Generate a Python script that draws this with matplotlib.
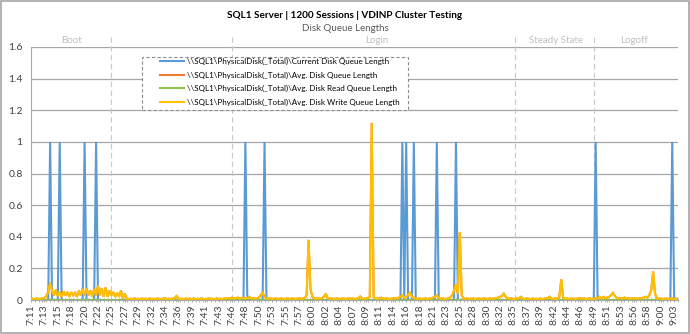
import matplotlib
matplotlib.use('Agg')
import matplotlib.pyplot as plt
from matplotlib.patches import Rectangle

plt.rcParams['font.family'] = ['Lato', 'DejaVu Sans']

# ---------------- data ----------------
title = "SQL1 Server | 1200 Sessions | VDINP Cluster Testing"
subtitle = "Disk Queue Lengths"
series_names = [
    r"\\SQL1\PhysicalDisk(_Total)\Current Disk Queue Length",
    r"\\SQL1\PhysicalDisk(_Total)\Avg. Disk Queue Length",
    r"\\SQL1\PhysicalDisk(_Total)\Avg. Disk Read Queue Length",
    r"\\SQL1\PhysicalDisk(_Total)\Avg. Disk Write Queue Length",
]
time_labels = ["7:11", "7:13", "7:15", "7:18", "7:20", "7:22", "7:25", "7:27", "7:29", "7:32",
               "7:34", "7:36", "7:39", "7:41", "7:43", "7:46", "7:48", "7:50", "7:53", "7:55",
               "7:57", "8:00", "8:02", "8:04", "8:07", "8:09", "8:11", "8:14", "8:16", "8:18",
               "8:21", "8:23", "8:25", "8:28", "8:30", "8:32", "8:35", "8:37", "8:39", "8:42",
               "8:44", "8:46", "8:49", "8:51", "8:53", "8:56", "8:58", "9:00", "9:03"]
phase_names = ["Boot", "Login", "Steady State", "Logoff"]
phase_bounds = [41.8, 104.9, 253.0, 294.1]   # sample index of dashed phase separators

current_queue = [
    0,0,0,0,0,0,0,0,0,0, 1,0,0,0,0,1,0,0,0,0,
    0,0,0,0,0,0,0,0,1,0, 0,0,0,0,1,0,0,0,0,0,
    0,0,0,0,0,0,0,0,0,0, 0,0,0,0,0,0,0,0,0,0,
    0,0,0,0,0,0,0,0,0,0, 0,0,0,0,0,0,0,0,0,0,
    0,0,0,0,0,0,0,0,0,0, 0,0,0,0,0,0,0,0,0,0,
    0,0,0,0,0,0,0,0,0,0, 0,0,1,0,0,0,0,0,0,0,
    0,0,1,0,0,0,0,0,0,0, 0,0,0,0,0,0,0,0,0,0,
    0,0,0,0,0,0,0,0,0,0, 0,0,0,0,0,0,0,0,0,0,
    0,0,0,0,0,0,0,0,0,0, 0,0,0,0,0,0,0,0,0,0,
    0,0,0,0,0,0,0,0,0,0, 0,0,0,0,1,0,1,0,0,0,
    1,0,0,0,0,0,0,0,0,0, 0,0,1,0,0,0,0,0,0,0,
    0,0,1,0,0,0,0,0,0,0, 0,0,0,0,0,0,0,0,0,0,
    0,0,0,0,0,0,0,0,0,0, 0,0,0,0,0,0,0,0,0,0,
    0,0,0,0,0,0,0,0,0,0, 0,0,0,0,0,0,0,0,0,0,
    0,0,0,0,0,0,0,0,0,0, 0,0,0,0,0,1,0,0,0,0,
    0,0,0,0,0,0,0,0,0,0, 0,0,0,0,0,0,0,0,0,0,
    0,0,0,0,0,0,0,0,0,0, 0,0,0,0,0,1,0,0,0,
]

write_queue = [
    0.005,0.008,0.005,0.010,0.006,0.008,0.010,0.012,0.025,0.050, 0.110,0.060,0.030,0.065,0.025,0.050,0.020,0.055,0.030,0.050,
    0.020,0.050,0.030,0.045,0.020,0.060,0.030,0.070,0.030,0.075, 0.030,0.060,0.020,0.070,0.030,0.090,0.030,0.075,0.020,0.080,
    0.020,0.060,0.030,0.050,0.020,0.045,0.020,0.060,0.010,0.040, 0.008,0.005,0.008,0.005,0.010,0.006,0.008,0.005,0.010,0.006,
    0.008,0.005,0.010,0.006,0.008,0.005,0.010,0.007,0.005,0.008, 0.010,0.006,0.008,0.005,0.010,0.012,0.025,0.010,0.006,0.008,
    0.005,0.010,0.006,0.008,0.005,0.010,0.006,0.008,0.005,0.010, 0.007,0.005,0.008,0.010,0.006,0.008,0.005,0.010,0.006,0.008,
    0.005,0.010,0.008,0.012,0.010,0.015,0.010,0.012,0.015,0.010, 0.012,0.015,0.010,0.012,0.020,0.010,0.012,0.008,0.010,0.015,
    0.030,0.045,0.020,0.010,0.008,0.010,0.006,0.008,0.010,0.006, 0.008,0.010,0.006,0.008,0.010,0.007,0.008,0.010,0.006,0.008,
    0.010,0.008,0.010,0.012,0.030,0.380,0.070,0.020,0.010,0.008, 0.010,0.008,0.012,0.020,0.040,0.012,0.008,0.010,0.006,0.008,
    0.010,0.006,0.008,0.010,0.006,0.008,0.010,0.008,0.010,0.006, 0.008,0.010,0.022,0.010,0.008,0.010,0.012,0.020,1.120,0.020,
    0.010,0.008,0.010,0.015,0.010,0.008,0.010,0.006,0.008,0.010, 0.012,0.010,0.015,0.020,0.030,0.015,0.020,0.030,0.050,0.020,
    0.015,0.010,0.008,0.010,0.006,0.008,0.010,0.006,0.008,0.010, 0.015,0.020,0.030,0.015,0.008,0.010,0.006,0.008,0.010,0.015,
    0.030,0.060,0.100,0.040,0.430,0.030,0.010,0.008,0.010,0.006, 0.008,0.010,0.006,0.008,0.010,0.006,0.008,0.010,0.006,0.008,
    0.010,0.008,0.010,0.012,0.015,0.020,0.025,0.040,0.020,0.010, 0.008,0.010,0.006,0.008,0.010,0.012,0.020,0.008,0.006,0.010,
    0.008,0.005,0.010,0.006,0.008,0.005,0.010,0.006,0.008,0.010, 0.012,0.020,0.008,0.006,0.010,0.008,0.020,0.130,0.015,0.008,
    0.010,0.006,0.008,0.010,0.006,0.008,0.010,0.012,0.008,0.010, 0.006,0.008,0.010,0.006,0.008,0.010,0.012,0.020,0.010,0.020,
    0.012,0.015,0.020,0.030,0.045,0.025,0.015,0.010,0.012,0.010, 0.015,0.012,0.010,0.008,0.010,0.012,0.010,0.008,0.010,0.012,
    0.015,0.020,0.015,0.030,0.060,0.180,0.040,0.010,0.008,0.010, 0.006,0.008,0.010,0.006,0.008,0.010,0.006,0.008,0.010,
]
# Avg. disk queue is write-dominated (identical readings, hidden under the write line);
# read queue stays at zero throughout.
avg_queue = list(write_queue)
read_queue = [0.0] * len(write_queue)

# ---------------- drawing ----------------
W, H = 690, 334
fig = plt.figure(figsize=(W / 100, H / 100), dpi=100)
ax = fig.add_axes([31 / W, 1 - 300 / H, (678 - 31) / W, (300 - 47) / H])

colors = ['#5B9BD5', '#ED7D31', '#8CC152', '#FFC000']
all_series = [current_queue, avg_queue, read_queue, write_queue]
x = list(range(len(write_queue)))
handles = []
for vals, c in zip(all_series, colors):
    ln, = ax.plot(x, vals, color=c, lw=1.5, solid_joinstyle='miter', zorder=3)
    handles.append(ln)

ax.set_xlim(0, len(write_queue) - 1)
ax.set_ylim(0, 1.6)
yt = [0, 0.2, 0.4, 0.6, 0.8, 1.0, 1.2, 1.4, 1.6]
ax.set_yticks(yt)
ax.set_yticklabels(['0', '0.2', '0.4', '0.6', '0.8', '1', '1.2', '1.4', '1.6'])
ax.set_xticks(range(0, 7 * len(time_labels), 7))
ax.set_xticklabels(time_labels, rotation=90)
ax.set_xticks(range(0, len(write_queue), 2), minor=True)

grid_c = '#A6A6A6'
ax.yaxis.grid(True, color=grid_c, lw=0.9)
ax.set_axisbelow(True)
for s in ['top', 'right']:
    ax.spines[s].set_visible(False)
ax.spines['left'].set_color(grid_c)
ax.spines['bottom'].set_color(grid_c)
ax.tick_params(axis='y', length=0, labelsize=7.5, pad=6, labelcolor='#404040')
ax.tick_params(axis='x', which='major', length=3, direction='inout', color=grid_c,
               labelsize=7.5, pad=2, labelcolor='#404040')
ax.tick_params(axis='x', which='minor', length=3, direction='inout', color=grid_c)

for b in phase_bounds:
    ax.axvline(b, ymin=0, ymax=1.04, color='#C8C8C8', lw=0.8, ls=(0, (5, 3)),
               clip_on=False, zorder=1)

phase_x = [20.9, 180.8, 274.3, 315.0]
for name, px in zip(phase_names, phase_x):
    ax.text(px, 1.615, name, ha='center', va='bottom', fontsize=7, color='#BFBFBF')

fig.text(0.5, 1 - 15 / H, title, ha='center', va='center', fontsize=7.2,
         fontweight='bold', color='#000000')
fig.text(0.5, 1 - 28.5 / H, subtitle, ha='center', va='center', fontsize=7,
         color='#595959')

# legend box
fig.patches.append(Rectangle((142 / W, 1 - 110 / H), (408 - 142) / W, (110 - 57) / H,
                             transform=fig.transFigure, facecolor='white',
                             edgecolor='#8C8C8C', lw=0.8, ls=(0, (3, 2)), zorder=2))
leg = fig.legend(handles, series_names, loc='upper left',
                 bbox_to_anchor=(160 / W, 1 - 58.0 / H), frameon=False, fontsize=5.8,
                 handlelength=3.0, handletextpad=0.3, borderpad=0, borderaxespad=0,
                 labelspacing=0.8)
leg.set_zorder(5)
for t in leg.get_texts():
    t.set_color('#000000')

# outer chart border
fig.patches.append(Rectangle((0.75 / W, 0.75 / H), 1 - 1.5 / W, 1 - 1.5 / H,
                             transform=fig.transFigure, fill=False,
                             edgecolor='#A6A6A6', lw=1.2, zorder=6))

fig.savefig('out.png', dpi=100)
